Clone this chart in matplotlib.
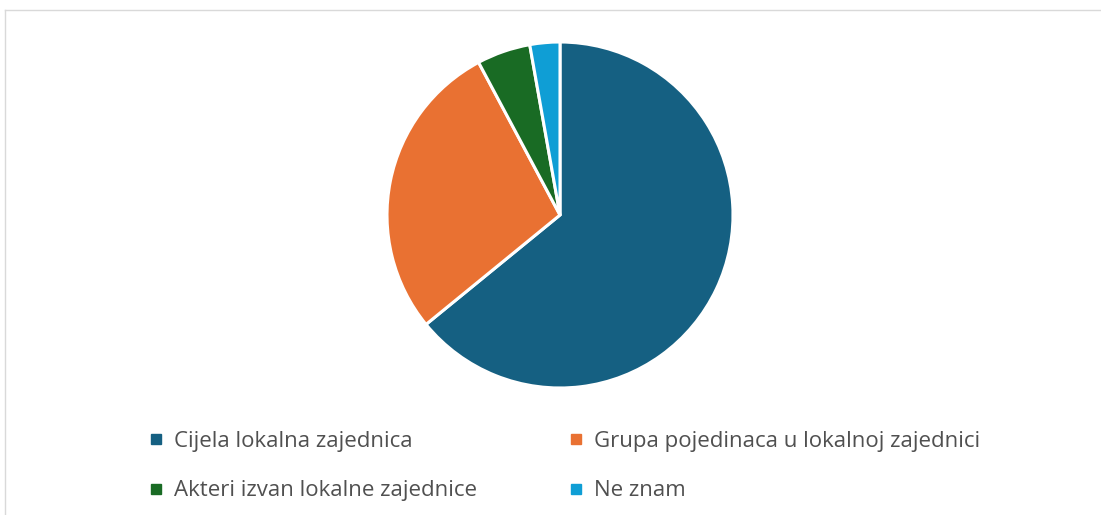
import matplotlib.pyplot as plt
from matplotlib.lines import Line2D

labels = ["Cijela lokalna zajednica", "Grupa pojedinaca u lokalnoj zajednici",
          "Akteri izvan lokalne zajednice", "Ne znam"]
values = [64.1, 28.1, 5.0, 2.8]
colors = ["#156082", "#E97132", "#196B24", "#0F9ED5"]

plt.rcParams['font.family'] = ['Open Sans', 'DejaVu Sans']

W, H = 1101, 515
fig = plt.figure(figsize=(W / 100, H / 100), dpi=100)

# light chart-area border (top and left visible)
fig.add_artist(plt.Line2D([5 / W, 5 / W], [0, 1 - 10 / H], transform=fig.transFigure,
                          color="#d9d9d9", lw=1))
fig.add_artist(plt.Line2D([5 / W, 1], [1 - 10 / H, 1 - 10 / H], transform=fig.transFigure,
                          color="#d9d9d9", lw=1))

cx, cy, r = 560, 215, 173
ax = fig.add_axes([(cx - r) / W, (H - cy - r) / H, 2 * r / W, 2 * r / H])
ax.pie(values, colors=colors, startangle=90, counterclock=False,
       wedgeprops=dict(edgecolor="white", linewidth=2.2))
ax.set_xlim(-1, 1)
ax.set_ylim(-1, 1)
ax.set_aspect('equal')
ax.axis('off')

handles = [Line2D([], [], marker='s', linestyle='', markersize=6.5,
                  markerfacecolor=c, markeredgecolor=c) for c in colors]

# two legend columns placed separately
for col, x in enumerate([148, 568]):
    idx = [col, col + 2]
    fig.legend([handles[i] for i in idx], [labels[i] for i in idx],
               loc='upper left', bbox_to_anchor=(x / W, 1 - 431 / H),
               frameon=False, fontsize=16, labelcolor="#505050",
               handlelength=0.7, handletextpad=0.45, labelspacing=1.28,
               borderpad=0, borderaxespad=0)

fig.savefig("out.png", dpi=100)
